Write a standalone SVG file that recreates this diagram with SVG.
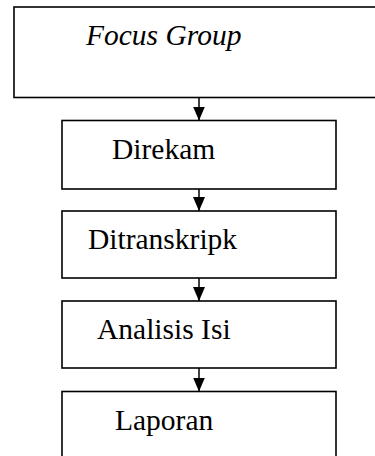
<svg xmlns="http://www.w3.org/2000/svg" width="375" height="456" viewBox="0 0 375 456">
  <style>
    .box { fill: #ffffff; stroke: #000000; stroke-width: 1.6; }
    .lbl { font-family: "Liberation Serif", "Times New Roman", serif; font-size: 29.5px; fill: #000000; }
    .it { font-style: italic; }
    .conn { stroke: #000000; stroke-width: 1.5; fill: none; }
  </style>
  <defs>
    <marker id="arrow" markerWidth="14" markerHeight="12" refX="14" refY="6" orient="auto" markerUnits="userSpaceOnUse" viewBox="0 0 14 12">
      <path d="M0,0 L14,6 L0,12 Z" fill="#000000"/>
    </marker>
  </defs>
  <rect x="0" y="0" width="375" height="456" fill="#ffffff"/>
  <g id="connectors">
    <line class="conn" x1="199" y1="97.5" x2="199" y2="120.5" marker-end="url(#arrow)"/>
    <line class="conn" x1="199" y1="189" x2="199" y2="211" marker-end="url(#arrow)"/>
    <line class="conn" x1="199" y1="278" x2="199" y2="301" marker-end="url(#arrow)"/>
    <line class="conn" x1="199" y1="368" x2="199" y2="391.5" marker-end="url(#arrow)"/>
  </g>
  <g id="focus-group">
    <rect class="box" x="14" y="7" width="380" height="90.5"/>
    <text class="lbl it" x="86" y="45">Focus Group</text>
  </g>
  <g id="direkam">
    <rect class="box" x="62" y="120.5" width="274" height="68.5"/>
    <text class="lbl" x="112" y="159">Direkam</text>
  </g>
  <g id="ditranskripk">
    <rect class="box" x="62" y="211" width="274" height="67"/>
    <text class="lbl" x="88" y="249">Ditranskripk</text>
  </g>
  <g id="analisis-isi">
    <rect class="box" x="62" y="301" width="274" height="67"/>
    <text class="lbl" x="97" y="339">Analisis Isi</text>
  </g>
  <g id="laporan">
    <rect class="box" x="62" y="391.5" width="274" height="80"/>
    <text class="lbl" x="115" y="430">Laporan</text>
  </g>
</svg>
